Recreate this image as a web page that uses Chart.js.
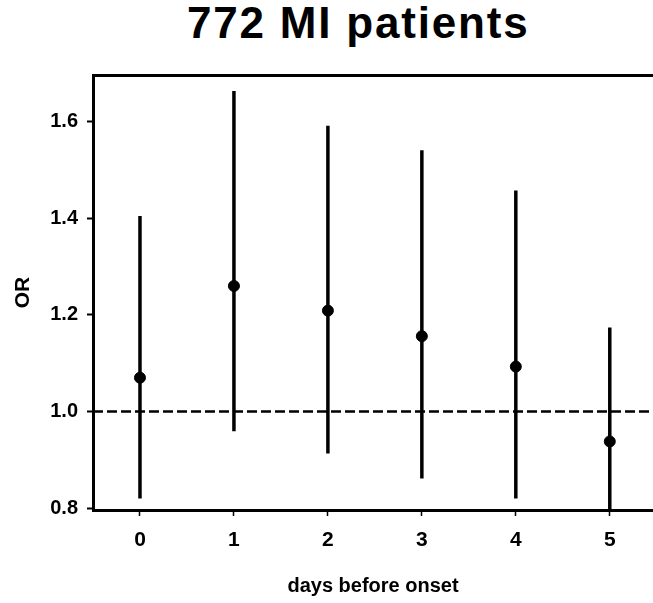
<!DOCTYPE html>
<html>
<head>
<meta charset="utf-8">
<script src="https://cdn.jsdelivr.net/npm/chart.js@4/dist/chart.umd.min.js"></script>
<style>
  body { margin: 0; background: #fff; }
  .wrap { position: relative; width: 653px; height: 603px; }
  .title {
    position: absolute; left: 187px; top: 1px;
    font: bold 44px/44px "Liberation Sans", Arial, sans-serif;
    letter-spacing: 1.8px; white-space: nowrap; color: #000;
  }
  canvas { position: absolute; left: 0; top: 0; }
</style>
</head>
<body>
<div class="wrap">
  <div class="title">772 MI patients</div>
  <canvas id="orChart" width="653" height="603"></canvas>
</div>
<script>
// days before onset
const days = [0, 1, 2, 3, 4, 5];
// odds ratio and its confidence limits
const orValues = [1.07, 1.26, 1.209, 1.156, 1.093, 0.938];
const ciLow = [0.82, 0.959, 0.913, 0.861, 0.82, 0.795];
const ciHigh = [1.405, 1.664, 1.592, 1.541, 1.458, 1.174];
// axis ticks
const yTicks = [0.8, 1.0, 1.2, 1.4, 1.6];
const xTicks = [0, 1, 2, 3, 4, 5];
const refLine = 1.0;

const xMin = -0.5, xMax = 5.46;
const yMin = 0.796, yMax = 1.697;

const font = 'Liberation Sans, Arial, sans-serif';

// un dataset par barre d'erreur
const errorBars = days.map((d, i) => ({
    type: 'line',
    data: [{ x: d, y: ciLow[i] }, { x: d, y: ciHigh[i] }],
    borderColor: '#000',
    borderWidth: 3.5,
    pointRadius: 0,
    order: 2
}));

new Chart(document.getElementById('orChart'), {
    type: 'scatter',
    data: {
        datasets: [
            {
                data: days.map((d, i) => ({ x: d, y: orValues[i] })),
                backgroundColor: '#000',
                borderColor: '#000',
                pointRadius: 5.5,
                order: 0
            },
            ...errorBars,
            {
                type: 'line',
                data: [{ x: xMin, y: refLine }, { x: xMax, y: refLine }],
                borderColor: '#000',
                borderWidth: 2.5,
                borderDash: [10, 4],
                pointRadius: 0,
                order: 3
            }
        ]
    },
    options: {
        responsive: false,
        animation: false,
        layout: { autoPadding: false, padding: { top: 75, right: 0, left: 0, bottom: 0 } },
        plugins: {
            legend: { display: false },
            tooltip: { enabled: false }
        },
        scales: {
            x: {
                type: 'linear',
                min: xMin,
                max: xMax,
                afterBuildTicks(scale) { scale.ticks = xTicks.map(v => ({ value: v })); },
                afterFit(scale) { scale.height = 93; scale.paddingRight = 0; },
                ticks: {
                    color: '#000',
                    padding: 12,
                    font: { family: font, size: 21, weight: 'bold' },
                    callback: v => String(v)
                },
                grid: { drawOnChartArea: false, tickLength: 6, tickColor: '#000', tickWidth: 1.5 },
                border: { color: '#000', width: 3 },
                title: {
                    display: true,
                    text: 'days before onset',
                    color: '#000',
                    padding: { top: 0, bottom: 5 },
                    font: { family: font, size: 20, weight: 'bold' }
                }
            },
            xTop: {
                type: 'linear',
                position: 'top',
                min: xMin,
                max: xMax,
                afterFit(scale) { scale.height = 0; },
                ticks: { display: false },
                grid: { display: false, drawTicks: false },
                border: { display: true, color: '#000', width: 3 }
            },
            y: {
                type: 'linear',
                min: yMin,
                max: yMax,
                afterBuildTicks(scale) { scale.ticks = yTicks.map(v => ({ value: v })); },
                afterFit(scale) { scale.width = 93; },
                ticks: {
                    color: '#000',
                    padding: 9,
                    font: { family: font, size: 20, weight: 'bold' },
                    callback: v => v.toFixed(1)
                },
                grid: { drawOnChartArea: false, tickLength: 6, tickColor: '#000', tickWidth: 2 },
                border: { color: '#000', width: 3 },
                title: {
                    display: true,
                    text: 'OR',
                    color: '#000',
                    padding: { top: 11, bottom: 0 },
                    font: { family: font, size: 21, weight: 'bold' }
                }
            }
        }
    }
});
</script>
</body>
</html>
